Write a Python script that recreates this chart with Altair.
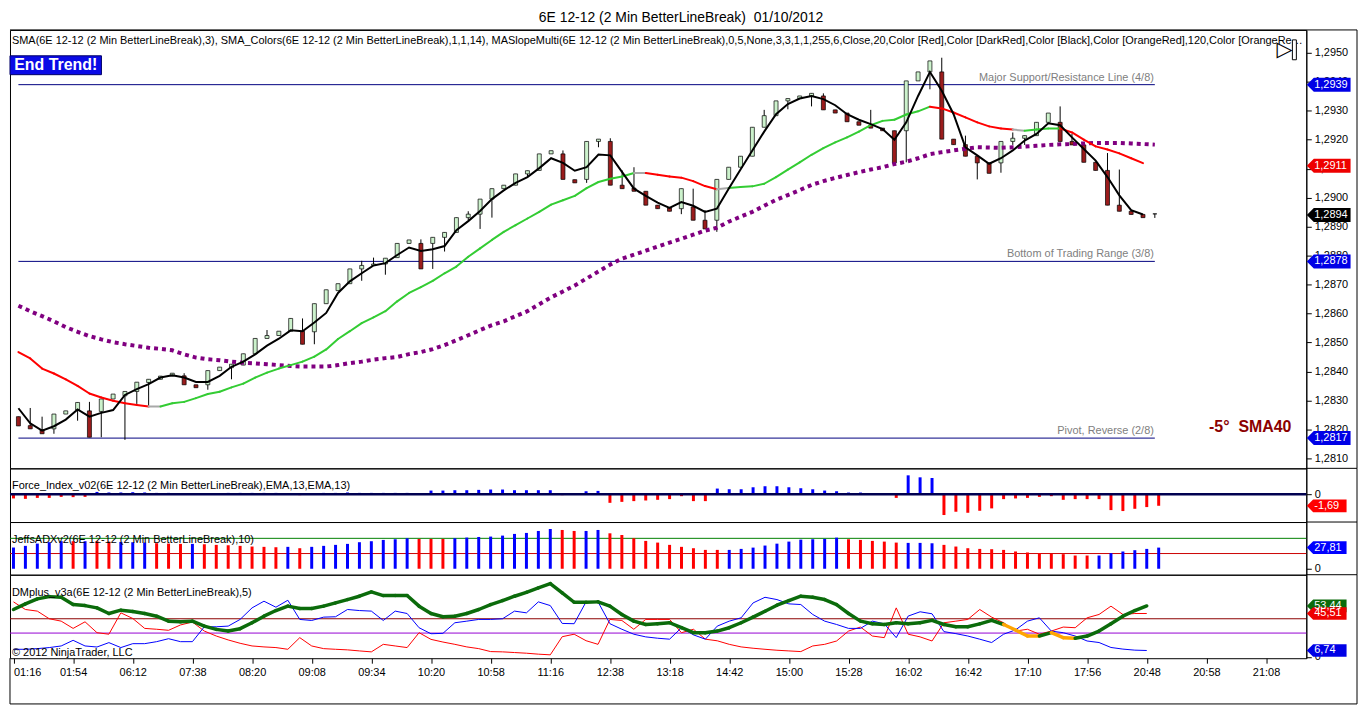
import altair as alt
import pandas as pd

# ---------------- data ----------------
time_labels = ["01:16", "01:54", "06:12", "07:38", "08:20", "09:08", "09:34", "10:20",
               "10:58", "11:16", "12:38", "13:18", "14:42", "15:00", "15:28", "16:02",
               "16:42", "17:10", "17:56", "20:48", "20:58", "21:08"]

bar_open = [1.28244, 1.28213, 1.28199, 1.28202, 1.28253, 1.28267, 1.28264, 1.28262, 1.28305, 1.28316,
            1.28331, 1.28362, 1.28373, 1.28384, 1.28385, 1.28354, 1.28354, 1.28403, 1.28413, 1.28422,
            1.28461, 1.28514, 1.28524, 1.28539, 1.28539, 1.28537, 1.28634, 1.28679, 1.28703, 1.28754,
            1.28766, 1.28771, 1.28793, 1.28842, 1.28842, 1.28842, 1.28863, 1.28880, 1.28931, 1.28943,
            1.28995, 1.29031, 1.29043, 1.29082, 1.29094, 1.29151, 1.29151, 1.29062, 1.29063, 1.29194,
            1.29194, 1.29043, 1.29033, 1.29022, 1.28974, 1.28965, 1.28962, 1.28968, 1.28922, 1.28922,
            1.29063, 1.29105, 1.29143, 1.29243, 1.29283, 1.29334, 1.29342, 1.29351, 1.29351, 1.29303,
            1.29292, 1.29262, 1.29250, 1.29240, 1.29231, 1.29231, 1.29403, 1.29434, 1.29434, 1.29202,
            1.29183, 1.29143, 1.29120, 1.29120, 1.29194, 1.29205, 1.29214, 1.29260, 1.29260, 1.29194,
            1.29182, 1.29122, 1.29094, 1.28974, 1.28953, 1.28942, 1.28944]
bar_high = [1.28244, 1.28274, 1.28244, 1.28253, 1.28264, 1.28293, 1.28295, 1.28305, 1.28322, 1.28331,
            1.28363, 1.28373, 1.28384, 1.28394, 1.28394, 1.28354, 1.28403, 1.28415, 1.28425, 1.28461,
            1.28514, 1.28543, 1.28539, 1.28583, 1.28583, 1.28634, 1.28682, 1.28703, 1.28754, 1.28782,
            1.28793, 1.28791, 1.28842, 1.28854, 1.28856, 1.28863, 1.28880, 1.28931, 1.28953, 1.28995,
            1.29031, 1.29043, 1.29082, 1.29093, 1.29151, 1.29162, 1.29163, 1.29062, 1.29194, 1.29202,
            1.29205, 1.29094, 1.29105, 1.29022, 1.28974, 1.28965, 1.29031, 1.29031, 1.28957, 1.29063,
            1.29105, 1.29143, 1.29243, 1.29303, 1.29334, 1.29342, 1.29351, 1.29360, 1.29360, 1.29303,
            1.29292, 1.29262, 1.29303, 1.29240, 1.29231, 1.29403, 1.29434, 1.29472, 1.29483, 1.29202,
            1.29214, 1.29143, 1.29120, 1.29194, 1.29225, 1.29214, 1.29260, 1.29292, 1.29315, 1.29220,
            1.29182, 1.29122, 1.29154, 1.29097, 1.28953, 1.28942, 1.28944]
bar_low = [1.28212, 1.28202, 1.28185, 1.28185, 1.28253, 1.28230, 1.28173, 1.28173, 1.28305, 1.28164,
           1.28288, 1.28282, 1.28373, 1.28384, 1.28354, 1.28344, 1.28337, 1.28403, 1.28373, 1.28422,
           1.28461, 1.28514, 1.28524, 1.28539, 1.28494, 1.28494, 1.28634, 1.28679, 1.28703, 1.28713,
           1.28766, 1.28734, 1.28793, 1.28842, 1.28754, 1.28754, 1.28814, 1.28880, 1.28922, 1.28892,
           1.28931, 1.29031, 1.29043, 1.29070, 1.29094, 1.29151, 1.29063, 1.29051, 1.29051, 1.29174,
           1.29043, 1.29031, 1.29022, 1.28974, 1.28962, 1.28953, 1.28943, 1.28922, 1.28892, 1.28882,
           1.29063, 1.29105, 1.29143, 1.29243, 1.29283, 1.29305, 1.29342, 1.29315, 1.29303, 1.29292,
           1.29262, 1.29250, 1.29240, 1.29231, 1.29120, 1.29122, 1.29403, 1.29374, 1.29202, 1.29183,
           1.29143, 1.29063, 1.29084, 1.29086, 1.29182, 1.29182, 1.29214, 1.29260, 1.29194, 1.29182,
           1.29122, 1.29094, 1.28974, 1.28953, 1.28942, 1.28931, 1.28930]
bar_close = [1.28212, 1.28202, 1.28185, 1.28253, 1.28264, 1.28293, 1.28173, 1.28305, 1.28322, 1.28331,
             1.28363, 1.28373, 1.28384, 1.28394, 1.28354, 1.28344, 1.28403, 1.28415, 1.28425, 1.28461,
             1.28514, 1.28524, 1.28539, 1.28583, 1.28494, 1.28634, 1.28682, 1.28703, 1.28754, 1.28766,
             1.28771, 1.28791, 1.28842, 1.28854, 1.28754, 1.28863, 1.28880, 1.28931, 1.28943, 1.28995,
             1.29031, 1.29043, 1.29082, 1.29093, 1.29151, 1.29162, 1.29063, 1.29051, 1.29194, 1.29202,
             1.29043, 1.29031, 1.29022, 1.28974, 1.28962, 1.28953, 1.29031, 1.28922, 1.28892, 1.29063,
             1.29105, 1.29143, 1.29243, 1.29283, 1.29334, 1.29342, 1.29351, 1.29360, 1.29303, 1.29292,
             1.29262, 1.29250, 1.29240, 1.29231, 1.29120, 1.29403, 1.29434, 1.29472, 1.29202, 1.29183,
             1.29143, 1.29120, 1.29084, 1.29194, 1.29205, 1.29214, 1.29260, 1.29292, 1.29194, 1.29182,
             1.29122, 1.29094, 1.28974, 1.28953, 1.28942, 1.28931, 1.28944]

sma3 = [1.28273, 1.28221, 1.28196, 1.28211, 1.28234, 1.28269, 1.28244, 1.28257, 1.28267, 1.28319,
        1.28339, 1.28356, 1.28379, 1.28387, 1.28379, 1.28364, 1.28364, 1.28385, 1.28416, 1.28434,
        1.28459, 1.28489, 1.28513, 1.28542, 1.28539, 1.28569, 1.28602, 1.28671, 1.28711, 1.28739,
        1.28766, 1.28774, 1.28802, 1.28828, 1.28816, 1.28822, 1.28833, 1.28888, 1.28919, 1.28954,
        1.28995, 1.29025, 1.29051, 1.29071, 1.29102, 1.29136, 1.29120, 1.29093, 1.29105, 1.29149,
        1.29146, 1.29088, 1.29031, 1.29006, 1.28983, 1.28965, 1.28985, 1.28972, 1.28951, 1.28962,
        1.29031, 1.29097, 1.29163, 1.29228, 1.29288, 1.29323, 1.29342, 1.29351, 1.29340, 1.29319,
        1.29288, 1.29269, 1.29254, 1.29237, 1.29200, 1.29260, 1.29351, 1.29434, 1.29369, 1.29288,
        1.29174, 1.29146, 1.29117, 1.29136, 1.29163, 1.29197, 1.29220, 1.29257, 1.29250, 1.29208,
        1.29168, 1.29128, 1.29071, 1.29008, 1.28957, 1.28942]

sma14 = [1.28467, 1.28445, 1.28410, 1.28393, 1.28373, 1.28350, 1.28324, 1.28310, 1.28299, 1.28290,
         1.28284, 1.28279, 1.28279, 1.28290, 1.28295, 1.28308, 1.28322, 1.28330, 1.28345, 1.28358,
         1.28379, 1.28396, 1.28410, 1.28422, 1.28434, 1.28451, 1.28476, 1.28512, 1.28539, 1.28567,
         1.28587, 1.28608, 1.28642, 1.28671, 1.28691, 1.28713, 1.28739, 1.28762, 1.28796, 1.28825,
         1.28854, 1.28882, 1.28905, 1.28928, 1.28951, 1.28976, 1.28991, 1.29006, 1.29033, 1.29054,
         1.29065, 1.29073, 1.29085, 1.29085, 1.29079, 1.29073, 1.29069, 1.29057, 1.29040, 1.29029,
         1.29033, 1.29037, 1.29039, 1.29048, 1.29071, 1.29097, 1.29122, 1.29148, 1.29171, 1.29191,
         1.29208, 1.29228, 1.29250, 1.29265, 1.29269, 1.29287, 1.29298, 1.29314, 1.29308, 1.29294,
         1.29277, 1.29260, 1.29246, 1.29239, 1.29235, 1.29231, 1.29235, 1.29239, 1.29239, 1.29225,
         1.29200, 1.29177, 1.29166, 1.29153, 1.29136, 1.29119]
sma14_trend_runs = [("down", 11), ("flat", 1), ("up", 40), ("flat", 1), ("down", 6), ("flat", 1),
                    ("up", 17), ("down", 7), ("flat", 1), ("up", 3), ("down", 7)]

slope_ma = [1.28627, 1.28608, 1.28591, 1.28573, 1.28553, 1.28537, 1.28522, 1.28511, 1.28501, 1.28494,
            1.28488, 1.28482, 1.28478, 1.28473, 1.28459, 1.28448, 1.28442, 1.28439, 1.28434, 1.28430,
            1.28428, 1.28425, 1.28422, 1.28419, 1.28417, 1.28417, 1.28417, 1.28422, 1.28429, 1.28434,
            1.28441, 1.28446, 1.28450, 1.28460, 1.28467, 1.28477, 1.28491, 1.28508, 1.28525, 1.28543,
            1.28560, 1.28573, 1.28591, 1.28608, 1.28632, 1.28656, 1.28676, 1.28697, 1.28721, 1.28745,
            1.28769, 1.28790, 1.28803, 1.28817, 1.28831, 1.28845, 1.28858, 1.28872, 1.28886, 1.28896,
            1.28917, 1.28934, 1.28951, 1.28972, 1.28992, 1.29009, 1.29026, 1.29044, 1.29057, 1.29068,
            1.29078, 1.29088, 1.29097, 1.29105, 1.29116, 1.29124, 1.29136, 1.29150, 1.29157, 1.29163,
            1.29169, 1.29174, 1.29173, 1.29172, 1.29174, 1.29176, 1.29179, 1.29182, 1.29184, 1.29185,
            1.29187, 1.29189, 1.29189, 1.29189, 1.29187, 1.29185, 1.29183]

level_values = [1.2939, 1.2878, 1.2817]
level_names = ["Major Support/Resistance Line (4/8)", "Bottom of Trading Range (3/8)", "Pivot, Reverse (2/8)"]

main_tag_values = [1.2939, 1.2911, 1.2894, 1.2878, 1.2817]
main_tag_text = ["1,2939", "1,2911", "1,2894", "1,2878", "1,2817"]
main_tag_kind = ["level", "sma14", "last", "level", "level"]

force_index = [-0.62, -0.68, -0.54, -0.54, -0.39, -0.43, -0.39, 0.33, 0.25, 0.25,
               0.29, 0.25, 0.19, 0.19, 0.14, 0.14, 0.14, 0.14, 0.19, 0.19,
               0.19, 0.19, 0.19, 0.14, -0.14, 0.14, 0.19, 0.19, 0.25, 0.19,
               0.19, 0.19, 0.19, 0.19, -0.10, 0.53, 0.53, 0.58, 0.58, 0.63,
               0.68, 0.68, 0.58, 0.58, 0.58, 0.58, -0.14, -0.10, 0.43, 0.48,
               -1.26, -1.12, -1.01, -0.92, -0.82, -0.72, -0.29, -1.01, -1.01, 0.82,
               0.72, 0.72, 1.01, 1.16, 1.16, 1.01, 0.87, 0.72, 0.53, 0.43,
               0.24, 0.24, 0.05, 0.03, -0.54, 2.75, 2.46, 2.36, -3.04, -2.56,
               -2.71, -2.42, -2.07, -0.72, -0.62, -0.54, -0.39, -0.29, -0.82, -0.72,
               -0.72, -0.72, -2.32, -2.46, -2.13, -1.88, -1.69]
force_tag_text = "-1,69"

adx = [27.9, 30.1, 33.1, 34.9, 36.2, 36.2, 36.2, 36.2, 35.7, 35.3,
       34.9, 34.4, 33.6, 33.1, 32.7, 32.7, 32.2, 31.4, 30.9, 30.1,
       29.2, 28.8, 28.3, 28.8, 27.0, 28.8, 30.1, 31.4, 32.7, 34.9,
       36.2, 37.9, 38.8, 40.1, 39.2, 39.2, 39.2, 40.1, 41.0, 41.8,
       42.3, 43.6, 45.8, 47.1, 49.7, 52.3, 51.0, 49.7, 49.7, 51.0,
       46.6, 44.4, 40.1, 36.6, 34.4, 31.4, 28.8, 27.0, 24.8, 24.8,
       24.8, 26.1, 27.8, 30.5, 33.0, 35.7, 38.3, 38.8, 39.2, 40.9,
       38.8, 37.9, 36.6, 35.7, 34.4, 34.0, 34.0, 33.5, 31.4, 29.2,
       27.0, 26.1, 25.7, 24.8, 22.7, 21.4, 20.5, 19.6, 19.2, 17.4,
       17.4, 17.4, 20.5, 22.7, 24.4, 26.1, 27.81]
adx_dir_runs = [("up", 5), ("down", 1), ("up", 1), ("down", 2), ("up", 3), ("down", 3), ("up", 1),
                ("down", 7), ("up", 1), ("down", 1), ("up", 9), ("down", 3), ("up", 9), ("down", 2),
                ("up", 2), ("down", 10), ("up", 10), ("down", 5), ("up", 3), ("down", 13), ("up", 6)]
adx_tag_text = "27,81"

dm_main = [49.7, 55.6, 60.8, 63.2, 62.5, 54.9, 53.8, 51.4, 45.5, 49.0,
           47.6, 45.5, 42.7, 37.5, 36.8, 37.5, 32.3, 28.9, 27.1, 29.6,
           35.8, 42.7, 48.6, 53.2, 50.7, 50.7, 53.2, 56.6, 60.1, 63.6,
           68.1, 64.3, 64.3, 64.3, 53.2, 45.5, 42.1, 42.7, 45.5, 49.7,
           54.9, 59.1, 63.6, 67.7, 72.3, 76.8, 67.1, 57.3, 57.3, 57.7,
           53.2, 44.5, 37.5, 34.0, 34.7, 35.8, 30.6, 25.4, 25.4, 27.1,
           30.6, 35.8, 41.7, 47.9, 54.2, 59.1, 63.6, 62.5, 60.1, 54.9,
           45.5, 37.5, 34.7, 34.0, 35.8, 34.7, 35.8, 38.3, 34.0, 31.6,
           31.6, 34.7, 38.3, 34.0, 28.2, 21.9, 21.9, 25.4, 20.2, 19.5,
           21.9, 27.1, 34.7, 42.7, 48.6, 53.44]
dm_state_runs = [("normal", 83), ("weak", 3), ("normal", 1), ("weak", 2), ("normal", 6)]
di_plus = [8.0, 8.0, 8.7, 9.8, 11.5, 17.4, 11.5, 10.4, 15.0, 9.8,
           13.9, 13.9, 16.0, 19.1, 16.0, 16.0, 31.6, 31.6, 32.3, 39.3,
           51.4, 58.4, 52.1, 59.4, 39.3, 38.2, 41.7, 42.1, 49.7, 48.6,
           48.0, 38.2, 48.0, 45.5, 30.6, 24.3, 24.7, 35.8, 37.5, 39.3,
           39.3, 40.0, 48.0, 46.2, 57.7, 53.8, 35.1, 34.8, 57.7, 57.7,
           34.8, 29.0, 23.8, 21.0, 19.6, 18.6, 30.6, 23.1, 18.6, 32.3,
           37.5, 41.0, 56.6, 62.5, 60.1, 55.6, 54.9, 44.5, 37.5, 34.0,
           29.9, 29.9, 37.5, 34.7, 20.2, 42.8, 47.3, 45.2, 26.5, 24.4,
           21.9, 18.6, 15.1, 23.8, 28.3, 37.5, 41.0, 27.1, 25.4, 21.9,
           16.7, 15.1, 9.9, 8.2, 7.1, 6.74]
di_minus = [57.7, 49.7, 48.0, 40.0, 37.5, 29.9, 36.8, 25.4, 23.8, 46.2,
            40.3, 29.9, 29.0, 27.9, 33.5, 36.6, 27.1, 21.9, 17.8, 14.3,
            11.5, 10.5, 9.8, 8.0, 20.2, 11.5, 8.7, 8.0, 7.4, 6.3,
            5.3, 13.2, 11.5, 9.8, 25.4, 18.4, 15.6, 13.2, 10.5, 8.7,
            5.6, 5.3, 4.6, 3.9, 2.9, 2.2, 21.2, 23.8, 17.0, 13.2,
            39.3, 38.2, 29.0, 39.3, 39.3, 39.3, 25.4, 29.0, 18.6, 16.9,
            13.2, 10.5, 9.1, 8.0, 7.0, 6.3, 5.6, 11.5, 13.2, 16.7,
            27.1, 31.3, 21.9, 20.2, 51.4, 23.8, 21.0, 16.7, 35.8, 37.5,
            39.3, 49.7, 41.7, 35.8, 27.1, 29.0, 23.8, 27.1, 31.3, 30.6,
            41.0, 44.5, 53.2, 44.5, 45.5, 45.51]
dm_tag_values = [53.44, 45.51, 6.74]
dm_tag_text = ["53,44", "45,51", "6,74"]
dm_tag_kind = ["main", "minus", "plus"]

# ---------------- styles / layout ----------------
W = 1304
H_MAIN, H_FORCE, H_ADX, H_DM = 441, 54, 53, 84
FRAME_X = W + 51
BOTTOM_EXTRA = 46
XDOM = [-0.2917, 108.375]
FONT = "Liberation Sans"
NBSP = "\u00a0"
FLAG = "M -1 0 L -0.68 -0.32 L 1 -0.32 L 1 0.32 L -0.68 0.32 Z"

CANDLE_FILL = {"up": "#ccf2cc", "down": "#9b1c1c"}
TREND_COL = {"up": "#33cc33", "down": "#ff0000", "flat": "#a8a8a8"}
BAR_COL = {"up": "#0000ff", "down": "#ff0000"}
DM_COL = {"normal": "#0b6b0b", "weak": "#ffa500"}
MAIN_TAG_COL = {"level": "#0000e6", "sma14": "#ee0000", "last": "#000000"}
DM_TAG_COL = {"main": "#0b6b0b", "minus": "#ee0000", "plus": "#0000e6"}


def expand(runs):
    out = []
    for v, n in runs:
        out += [v] * n
    return out


def xq(field="bar", axis=None):
    return alt.X(f"{field}:Q", scale=alt.Scale(domain=XDOM, nice=False, zero=False), axis=axis)


one = pd.DataFrame({"k": [0]})


def txt(text, x, y, size=11, color="black", align="left", weight="normal", font=FONT,
        baseline="middle", **kw):
    return alt.Chart(one).mark_text(text=text, fontSize=size, color=color, align=align,
                                    baseline=baseline, fontWeight=weight, font=font, **kw
                                    ).encode(x=alt.value(x), y=alt.value(y))


def hline(x0, x1, y):
    return alt.Chart(one).mark_rule(color="black", strokeWidth=1).encode(
        x=alt.value(x0), x2=alt.value(x1), y=alt.value(y))


def vline(x, y0, y1):
    return alt.Chart(one).mark_rule(color="black", strokeWidth=1).encode(
        x=alt.value(x), y=alt.value(y0), y2=alt.value(y1))


def ax_right(values, expr):
    return alt.Axis(orient="right", values=values, labelExpr=expr, tickSize=5, labelPadding=3,
                    labelFontSize=11, labelFont=FONT, labelColor="black", domain=True,
                    domainColor="black", tickColor="black", grid=False, title=None)


def tag_layers(df, yenc, size):
    half = (size ** 0.5) / 2
    shape = alt.Chart(df).mark_point(shape=FLAG, size=size, filled=True, opacity=1, strokeWidth=0).encode(
        x=alt.value(W + 0.5 + half), y=yenc, color=alt.Color("col:N", scale=None))
    label = alt.Chart(df).mark_text(align="left", baseline="middle", fontSize=11, font=FONT,
                                    color="white").encode(x=alt.value(W + 8), y=yenc, text="label:N")
    return [shape, label]


comma_expr = "replace(format(datum.value, '.4f'), '.', ',')"

# ---------------- main price panel ----------------
YMAIN = alt.Scale(domain=[1.280656, 1.295789], nice=False, zero=False)
main_axis = ax_right([round(1.281 + 0.001 * i, 4) for i in range(15)], comma_expr)


def ym(f):
    return alt.Y(f"{f}:Q", scale=YMAIN, axis=main_axis)


nb = len(bar_open)
df_c = pd.DataFrame({"bar": range(nb), "o": bar_open, "h": bar_high, "l": bar_low, "c": bar_close})
df_c["fill"] = [CANDLE_FILL["up"] if c >= o else CANDLE_FILL["down"] for o, c in zip(bar_open, bar_close)]
df_s3 = pd.DataFrame({"bar": range(len(sma3)), "v": sma3})
trend = expand(sma14_trend_runs)
df_s14 = pd.DataFrame({"x0": range(len(sma14) - 1), "x1": range(1, len(sma14)),
                       "y0": sma14[:-1], "y1": sma14[1:],
                       "col": [TREND_COL[t] for t in trend]})
df_p = pd.DataFrame({"bar": range(len(slope_ma)), "v": slope_ma})
df_lv = pd.DataFrame({"v": level_values, "label": level_names, "x0": 0, "x1": nb - 1})
df_mt = pd.DataFrame({"v": main_tag_values, "label": main_tag_text,
                      "col": [MAIN_TAG_COL[k] for k in main_tag_kind]})

lv_rule = alt.Chart(df_lv).mark_rule(color="#000080", strokeWidth=1).encode(
    x=xq("x0"), x2="x1:Q", y=ym("v"))
lv_text = alt.Chart(df_lv).mark_text(align="right", baseline="middle", dy=-7, dx=-1, fontSize=11,
                                      font=FONT, color="#808080").encode(
    x=xq("x1"), y=ym("v"), text="label:N")
wick = alt.Chart(df_c).mark_rule(color="black", strokeWidth=1).encode(x=xq(), y=ym("l"), y2="h:Q")
body = alt.Chart(df_c).mark_bar(size=4, stroke="black", strokeWidth=0.7).encode(
    x=xq(), y=ym("o"), y2="c:Q", fill=alt.Fill("fill:N", scale=None))
purple = alt.Chart(df_p).mark_line(color="#800080", strokeWidth=4, strokeDash=[4, 4]).encode(
    x=xq(), y=ym("v"))
s14 = alt.Chart(df_s14).mark_rule(strokeWidth=2, strokeCap="round").encode(
    x=xq("x0"), x2="x1:Q", y=ym("y0"), y2="y1:Q", color=alt.Color("col:N", scale=None))
s3 = alt.Chart(df_s3).mark_line(color="black", strokeWidth=2).encode(x=xq(), y=ym("v"))

HEADER = ("SMA(6E 12-12 (2 Min BetterLineBreak),3), SMA_Colors(6E 12-12 (2 Min BetterLineBreak),1,1,14), "
          "MASlopeMulti(6E 12-12 (2 Min BetterLineBreak),0,5,None,3,3,1,1,255,6,Close,20,Color [Red],"
          "Color [DarkRed],Color [Black],Color [OrangeRed],120,Color [OrangeRed],Color [Lime]")

end_box = alt.Chart(one).mark_rect(fill="#0a0ae6", stroke="#000066", strokeWidth=1).encode(
    x=alt.value(0), x2=alt.value(92), y=alt.value(26), y2=alt.value(45))
icon_bar = alt.Chart(one).mark_rect(fill="white", stroke="black", strokeWidth=1).encode(
    x=alt.value(1290), x2=alt.value(1294), y=alt.value(10), y2=alt.value(30))

main = alt.layer(
    lv_rule, lv_text, wick, body, purple, s14, s3,
    txt(HEADER, 2, 11, limit=W - 4, ellipsis=""),
    end_box,
    txt("End Trend!", 46, 35.5, size=16, color="white", align="center", weight="bold"),
    txt("-5°" + NBSP + " SMA40", 1289, 399, size=16, color="#8b0000", align="right", weight="bold"),
    txt("▷", 1282, 20, size=21, font="DejaVu Sans", align="center"),
    icon_bar,
    *tag_layers(df_mt, ym("v"), 1936),
    txt("6E 12-12 (2 Min BetterLineBreak)" + NBSP + " 01/10/2012", 675, -12, size=14, align="center"),
    hline(0, FRAME_X, 0), vline(FRAME_X, 0, H_MAIN),
).properties(width=W, height=H_MAIN)

# ---------------- force index panel ----------------
YF = alt.Scale(domain=[-4.06, 3.77], nice=False, zero=False)
force_axis = ax_right([0], "'0'")
df_f = pd.DataFrame({"bar": range(len(force_index)), "v": force_index,
                     "col": [BAR_COL["up"] if v >= 0 else BAR_COL["down"] for v in force_index]})
df_ft = pd.DataFrame({"v": [force_index[-1]], "label": [force_tag_text], "col": [BAR_COL["down"]]})


def yf(f):
    return alt.Y(f"{f}:Q", scale=YF, axis=force_axis)


force = alt.layer(
    alt.Chart(df_f).mark_rule(strokeWidth=3).encode(
        x=xq(), y=yf("v"), y2=alt.datum(0), color=alt.Color("col:N", scale=None)),
    alt.Chart(pd.DataFrame({"v": [0]})).mark_rule(color="#000050", strokeWidth=2.5).encode(y=yf("v")),
    txt("Force_Index_v02(6E 12-12 (2 Min BetterLineBreak),EMA,13,EMA,13)", 2, 18),
    *tag_layers(df_ft, yf("v"), 1600),
    hline(W, FRAME_X, 0), vline(FRAME_X, 0, H_FORCE),
).properties(width=W, height=H_FORCE)

# ---------------- ADX panel ----------------
YA = alt.Scale(domain=[-7.84, 61.44], nice=False, zero=False)
adx_axis = ax_right([0], "'0'")
adx_dir = expand(adx_dir_runs)
df_a = pd.DataFrame({"bar": range(len(adx)), "v": adx, "col": [BAR_COL[d] for d in adx_dir]})
df_at = pd.DataFrame({"v": [adx[-1]], "label": [adx_tag_text], "col": [BAR_COL["up"]]})


def ya(f):
    return alt.Y(f"{f}:Q", scale=YA, axis=adx_axis)


adx_panel = alt.layer(
    alt.Chart(pd.DataFrame({"v": [40]})).mark_rule(color="#008000", strokeWidth=1).encode(y=ya("v")),
    alt.Chart(pd.DataFrame({"v": [20]})).mark_rule(color="#cc0000", strokeWidth=1).encode(y=ya("v")),
    alt.Chart(df_a).mark_rule(strokeWidth=3).encode(
        x=xq(), y=ya("v"), y2=alt.datum(0), color=alt.Color("col:N", scale=None)),
    txt("JeffsADXv2(6E 12-12 (2 Min BetterLineBreak),10)", 2, 18),
    *tag_layers(df_at, ya("v"), 1600),
    hline(W, FRAME_X, 0), vline(FRAME_X, 0, H_ADX),
).properties(width=W, height=H_ADX)

# ---------------- DMplus panel ----------------
YD = alt.Scale(domain=[-1.35, 86.15], nice=False, zero=False)
dm_axis = ax_right([0], "'0'")
labels_js = "[" + ",".join(f"'{t}'" for t in time_labels) + "]"
x_axis = alt.Axis(values=list(range(0, 5 * len(time_labels), 5)),
                  labelExpr=f"{labels_js}[round(datum.value / 5)]", tickSize=5, labelPadding=3,
                  labelFontSize=11, labelFont=FONT, labelColor="black", domain=False,
                  tickColor="black", grid=False, title=None, labelFlush=5)


def xd(field="bar"):
    return xq(field, axis=x_axis)


def yd(f):
    return alt.Y(f"{f}:Q", scale=YD, axis=dm_axis)


dm_state = expand(dm_state_runs)
df_dm = pd.DataFrame({"x0": range(len(dm_main) - 1), "x1": range(1, len(dm_main)),
                      "y0": dm_main[:-1], "y1": dm_main[1:], "col": [DM_COL[s] for s in dm_state]})
df_dp = pd.DataFrame({"bar": range(len(di_plus)), "v": di_plus})
df_dn = pd.DataFrame({"bar": range(len(di_minus)), "v": di_minus})
df_dt = pd.DataFrame({"v": dm_tag_values, "label": dm_tag_text, "col": [DM_TAG_COL[k] for k in dm_tag_kind]})

dm_panel = alt.layer(
    alt.Chart(pd.DataFrame({"v": [40]})).mark_rule(color="#8b0000", strokeWidth=1).encode(y=yd("v")),
    alt.Chart(pd.DataFrame({"v": [25]})).mark_rule(color="#9400d3", strokeWidth=1).encode(y=yd("v")),
    alt.Chart(df_dn).mark_line(color="#ff0000", strokeWidth=1).encode(x=xd(), y=yd("v")),
    alt.Chart(df_dp).mark_line(color="#0000ff", strokeWidth=1).encode(x=xd(), y=yd("v")),
    alt.Chart(df_dm).mark_rule(strokeWidth=3.5, strokeCap="round").encode(
        x=xd("x0"), x2="x1:Q", y=yd("y0"), y2="y1:Q", color=alt.Color("col:N", scale=None)),
    txt("DMplus_v3a(6E 12-12 (2 Min BetterLineBreak),5)", 2, 18),
    txt("© 2012 NinjaTrader, LLC", 2, 79),
    *tag_layers(df_dt, yd("v"), 1600),
    hline(W, FRAME_X, 0), vline(FRAME_X, 0, H_DM + BOTTOM_EXTRA),
    hline(0, FRAME_X, H_DM + BOTTOM_EXTRA), vline(0, H_DM, H_DM + BOTTOM_EXTRA),
).properties(width=W, height=H_DM)

chart = alt.vconcat(main, force, adx_panel, dm_panel, spacing=0, bounds="flush").resolve_scale(
    y="independent", x="independent"
).properties(
    padding={"left": 0, "top": 0, "right": 0, "bottom": 0}
).configure_view(stroke="black", strokeWidth=1)

chart.save("out.html", embed_options={"renderer": "svg", "actions": False})
